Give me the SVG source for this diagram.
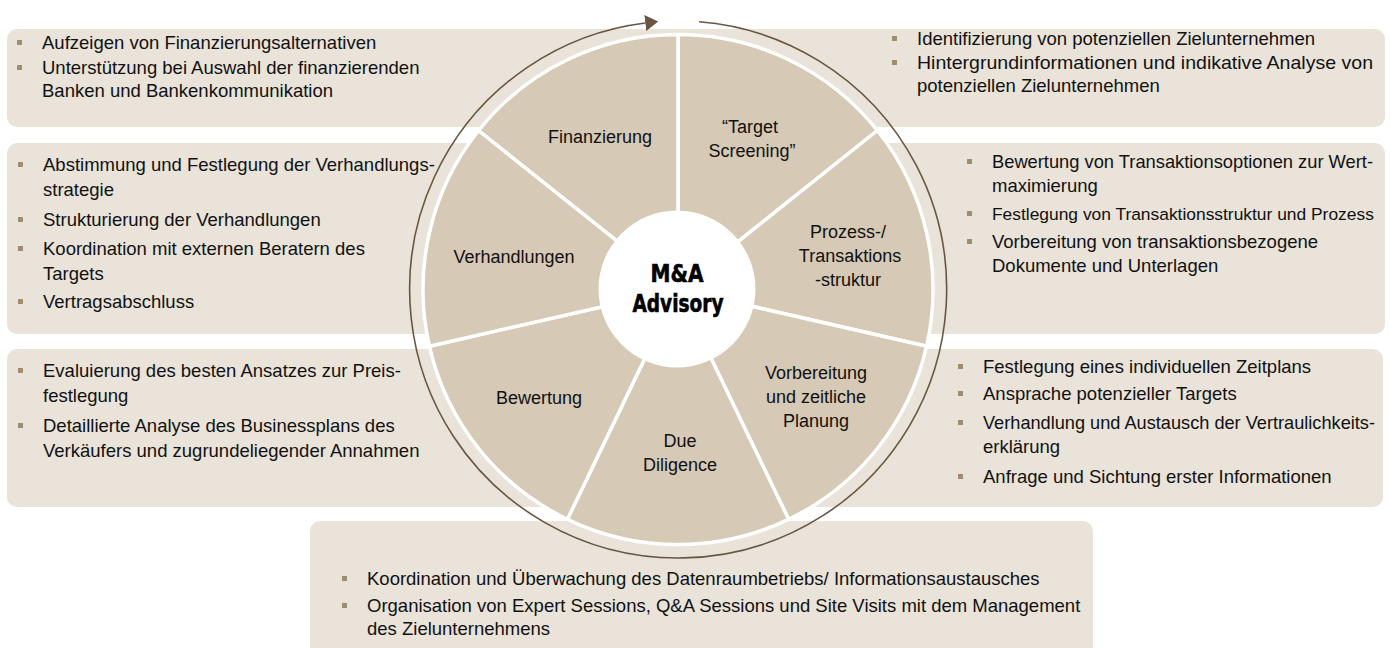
<svg xmlns="http://www.w3.org/2000/svg" width="1390" height="648" viewBox="0 0 1390 648">
  <style>
    .box { fill: #e9e3d9; }
    .wedge { fill: #d6c9b5; stroke: #ffffff; stroke-width: 3.5; stroke-linejoin: round; }
    .bul { fill: #a08c6e; }
    .t { font-family: "Liberation Sans", Arial, sans-serif; font-size: 18.5px; fill: #111111; }
    .w { font-family: "Liberation Sans", Arial, sans-serif; font-size: 18px; fill: #111111; text-anchor: middle; }
    .hub { font-family: "DejaVu Sans Condensed", "DejaVu Sans", sans-serif; font-weight: bold; font-size: 25px; fill: #000000; stroke: #000000; stroke-width: 0.6; text-anchor: middle; }
    .ring { fill: none; stroke: #6a5640; stroke-width: 1.6; }
  </style>
  <defs>
    <marker id="arrow" markerUnits="userSpaceOnUse" markerWidth="14" markerHeight="18" viewBox="0 -9 14 18" refX="0" refY="0" orient="auto">
      <path d="M0,-8 L13,0 L0,8 Z" fill="#6a5640"/>
    </marker>
  </defs>
  <rect width="1390" height="648" fill="#ffffff"/>

  <!-- description boxes -->
  <g id="box-finanzierung">
    <rect class="box" x="7" y="29" width="683" height="98" rx="10"/>
    <rect class="bul" x="17" y="40" width="5" height="5"/>
    <text class="t" x="42" y="49">Aufzeigen von Finanzierungsalternativen</text>
    <rect class="bul" x="17" y="65" width="5" height="5"/>
    <text class="t" x="42" y="74">Unterstützung bei Auswahl der finanzierenden</text>
    <text class="t" x="42" y="97">Banken und Bankenkommunikation</text>
  </g>
  <g id="box-target-screening">
    <rect class="box" x="670" y="29" width="715" height="98" rx="10"/>
    <rect class="bul" x="892" y="36" width="5" height="5"/>
    <text class="t" x="917" y="45">Identifizierung von potenziellen Zielunternehmen</text>
    <rect class="bul" x="892" y="60" width="5" height="5"/>
    <text class="t" x="917" y="69" textLength="456" lengthAdjust="spacingAndGlyphs">Hintergrundinformationen und indikative Analyse von</text>
    <text class="t" x="917" y="92">potenziellen Zielunternehmen</text>
  </g>
  <g id="box-verhandlungen">
    <rect class="box" x="7" y="143" width="683" height="191" rx="10"/>
    <rect class="bul" x="18" y="162" width="5" height="5"/>
    <text class="t" x="43" y="171">Abstimmung und Festlegung der Verhandlungs-</text>
    <text class="t" x="43" y="196">strategie</text>
    <rect class="bul" x="18" y="217" width="5" height="5"/>
    <text class="t" x="43" y="226">Strukturierung der Verhandlungen</text>
    <rect class="bul" x="18" y="246" width="5" height="5"/>
    <text class="t" x="43" y="255">Koordination mit externen Beratern des</text>
    <text class="t" x="43" y="280">Targets</text>
    <rect class="bul" x="18" y="299" width="5" height="5"/>
    <text class="t" x="43" y="308">Vertragsabschluss</text>
  </g>
  <g id="box-prozess">
    <rect class="box" x="670" y="143" width="715" height="191" rx="10"/>
    <rect class="bul" x="967" y="159" width="5" height="5"/>
    <text class="t" x="992" y="168" textLength="381" lengthAdjust="spacingAndGlyphs">Bewertung von Transaktionsoptionen zur Wert-</text>
    <text class="t" x="992" y="192">maximierung</text>
    <rect class="bul" x="967" y="211" width="5" height="5"/>
    <text class="t" x="992" y="220" style="font-size:17.4px">Festlegung von Transaktionsstruktur und Prozess</text>
    <rect class="bul" x="967" y="239" width="5" height="5"/>
    <text class="t" x="992" y="248">Vorbereitung von transaktionsbezogene</text>
    <text class="t" x="992" y="272">Dokumente und Unterlagen</text>
  </g>
  <g id="box-bewertung">
    <rect class="box" x="7" y="349" width="683" height="158" rx="10"/>
    <rect class="bul" x="18" y="368" width="5" height="5"/>
    <text class="t" x="43" y="377">Evaluierung des besten Ansatzes zur Preis-</text>
    <text class="t" x="43" y="402">festlegung</text>
    <rect class="bul" x="18" y="423" width="5" height="5"/>
    <text class="t" x="43" y="432">Detaillierte Analyse des Businessplans des</text>
    <text class="t" x="43" y="457">Verkäufers und zugrundeliegender Annahmen</text>
  </g>
  <g id="box-vorbereitung">
    <rect class="box" x="670" y="349" width="713" height="158" rx="10"/>
    <rect class="bul" x="958" y="364" width="5" height="5"/>
    <text class="t" x="983" y="373">Festlegung eines individuellen Zeitplans</text>
    <rect class="bul" x="958" y="391" width="5" height="5"/>
    <text class="t" x="983" y="400">Ansprache potenzieller Targets</text>
    <rect class="bul" x="958" y="420" width="5" height="5"/>
    <text class="t" x="983" y="429" textLength="392" lengthAdjust="spacingAndGlyphs">Verhandlung und Austausch der Vertraulichkeits-</text>
    <text class="t" x="983" y="453">erklärung</text>
    <rect class="bul" x="958" y="474" width="5" height="5"/>
    <text class="t" x="983" y="483">Anfrage und Sichtung erster Informationen</text>
  </g>
  <g id="box-due-diligence">
    <rect class="box" x="310" y="521" width="783" height="140" rx="10"/>
    <rect class="bul" x="342" y="576" width="5" height="5"/>
    <text class="t" x="367" y="585">Koordination und Überwachung des Datenraumbetriebs/ Informationsaustausches</text>
    <rect class="bul" x="342" y="603" width="5" height="5"/>
    <text class="t" x="367" y="612">Organisation von Expert Sessions, Q&amp;A Sessions und Site Visits mit dem Management</text>
    <text class="t" x="367" y="635">des Zielunternehmens</text>
  </g>

  <!-- cycle connector -->
  <g id="connectors">
    <path class="ring" d="M699.1,21.8 A268.5,268.5 0 1 1 645.3,23.0" marker-end="url(#arrow)"/>
  </g>

  <!-- wheel segments -->
  <g id="seg-target-screening">
    <path class="wedge" d="M678,289.5 L678,34.5 A255,255 0 0 1 877.4,130.5 Z"/>
    <text class="w" x="750" y="133">“Target</text>
    <text class="w" x="752" y="157">Screening”</text>
  </g>
  <g id="seg-prozess">
    <path class="wedge" d="M678,289.5 L877.4,130.5 A255,255 0 0 1 926.6,346.2 Z"/>
    <text class="w" x="848" y="238">Prozess-/</text>
    <text class="w" x="850" y="262">Transaktions</text>
    <text class="w" x="848" y="286">-struktur</text>
  </g>
  <g id="seg-vorbereitung">
    <path class="wedge" d="M678,289.5 L926.6,346.2 A255,255 0 0 1 788.6,519.3 Z"/>
    <text class="w" x="816" y="379">Vorbereitung</text>
    <text class="w" x="816" y="403">und zeitliche</text>
    <text class="w" x="816" y="427">Planung</text>
  </g>
  <g id="seg-due-diligence">
    <path class="wedge" d="M678,289.5 L788.6,519.3 A255,255 0 0 1 567.4,519.3 Z"/>
    <text class="w" x="680" y="447">Due</text>
    <text class="w" x="680" y="471">Diligence</text>
  </g>
  <g id="seg-bewertung">
    <path class="wedge" d="M678,289.5 L567.4,519.3 A255,255 0 0 1 429.4,346.2 Z"/>
    <text class="w" x="539" y="404">Bewertung</text>
  </g>
  <g id="seg-verhandlungen">
    <path class="wedge" d="M678,289.5 L429.4,346.2 A255,255 0 0 1 478.6,130.5 Z"/>
    <text class="w" x="514" y="263">Verhandlungen</text>
  </g>
  <g id="seg-finanzierung">
    <path class="wedge" d="M678,289.5 L478.6,130.5 A255,255 0 0 1 678,34.5 Z"/>
    <text class="w" x="600" y="143">Finanzierung</text>
  </g>

  <!-- hub -->
  <g id="hub">
    <circle cx="677" cy="289" r="78.5" fill="#ffffff"/>
    <text class="hub" x="677" y="282" textLength="53" lengthAdjust="spacingAndGlyphs">M&amp;A</text>
    <text class="hub" x="678" y="312" textLength="91" lengthAdjust="spacingAndGlyphs">Advisory</text>
  </g>
</svg>
